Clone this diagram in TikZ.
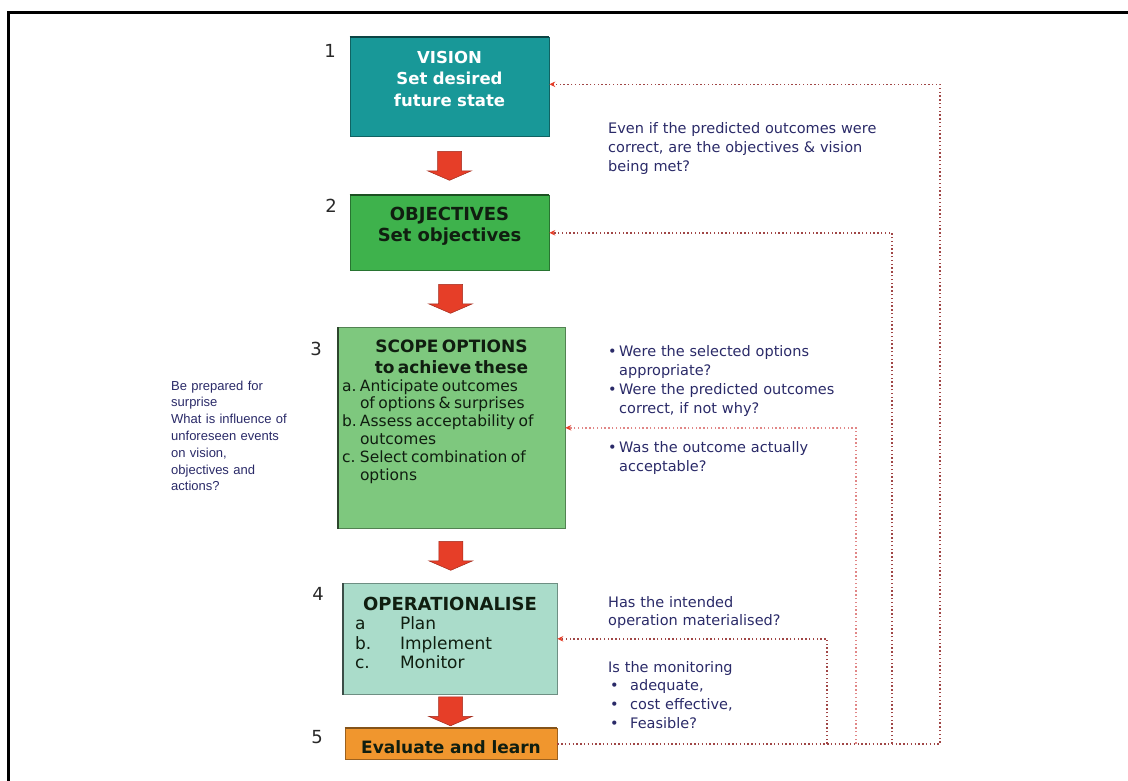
\documentclass[tikz,border=0pt]{standalone}
\usepackage{fontspec}
\setmainfont{DejaVu Sans}
\newfontfamily\notefont{Liberation Sans}
\usetikzlibrary{arrows.meta,calc}

\definecolor{visioncol}{RGB}{24,152,152}
\definecolor{objcol}{RGB}{62,178,76}
\definecolor{scopecol}{RGB}{126,200,126}
\definecolor{opcol}{RGB}{170,220,202}
\definecolor{evalcol}{RGB}{240,150,46}
\definecolor{arrowred}{RGB}{230,62,40}
\definecolor{navytext}{RGB}{42,42,104}
\definecolor{boxtext}{RGB}{16,30,16}
\definecolor{numcol}{RGB}{40,40,40}
\definecolor{fbcol}{RGB}{160,70,70}
\definecolor{fblight}{RGB}{225,135,135}

\tikzset{
  stagebox/.style={draw=#1!65!black, fill=#1, line width=0.6pt, anchor=north,
    inner xsep=4pt, inner ysep=0pt},
  stagenum/.style={anchor=base, inner sep=0pt, text=numcol,
    font={\fontsize{18pt}{20pt}\selectfont}},
  note/.style={anchor=base west, inner sep=0pt, align=left, text width=300pt,
    text=navytext, font={\fontsize{14.5pt}{19.2pt}\selectfont}},
  fbline/.style={draw=fbcol, line width=1.4pt, dash pattern=on 1.4pt off 2.4pt},
  fbfaint/.style={draw=fblight, line width=1.4pt, dash pattern=on 1.4pt off 2.4pt},
  fbtip/.style={-{Stealth[length=6pt,width=5.5pt,color=arrowred]}},
  edgeline/.style={line width=1.8pt},
  blockarrow/.pic={
    \filldraw[fill=arrowred, draw=arrowred!70!black, line width=0.5pt]
      (-12,-14.5) -- (12,-14.5) -- (12,5) -- (22,5) -- (0,14.5)
      -- (-22,5) -- (-12,5) -- cycle;
  }
}

\begin{document}
\begin{tikzpicture}[x=1pt,y=-1pt]
\useasboundingbox (0,0) rectangle (1128,780);

% outer frame
\draw[line width=3pt] (8,800) -- (8,12) -- (1140,12);

% stage boxes
\node[stagebox=visioncol, text width=191pt, align=center, text=white,
      text height=26pt, text depth=73pt,
      font={\fontsize{16.5pt}{21.5pt}\selectfont\bfseries}]
  (vis) at (449.5,37) {VISION\\Set desired\\future state};
\draw[edgeline, visioncol!45!black] (vis.north west) -- (vis.north east);

\node[stagebox=objcol, text width=191pt, align=center, text=boxtext,
      text height=25pt, text depth=50pt,
      font={\fontsize{18pt}{21pt}\selectfont\bfseries}]
  (obj) at (449.5,195) {OBJECTIVES\\Set objectives};
\draw[edgeline, objcol!45!black] (obj.north west) -- (obj.north east);

\node[stagebox=scopecol, text width=219pt, align=left, text=boxtext,
      text height=25pt, text depth=176pt]
  (scope) at (451.5,327) {%
  {\centering\fontsize{17pt}{21pt}\selectfont\bfseries SCOPE OPTIONS\\to achieve these\par}%
  {\fontsize{15.5pt}{17.8pt}\selectfont\raggedright
  \makebox[18pt][l]{a.}Anticipate outcomes\\
  \hspace*{18pt}of options \& surprises\\
  \makebox[18pt][l]{b.}Assess acceptability of\\
  \hspace*{18pt}outcomes\\
  \makebox[18pt][l]{c.}Select combination of\\
  \hspace*{18pt}options\par}};
\draw[edgeline, scopecol!35!black] (scope.north west) -- (scope.south west);

\node[stagebox=opcol, text width=206pt, align=left, text=boxtext,
      text height=27pt, text depth=84pt]
  (op) at (450,583) {%
  {\centering\fontsize{18pt}{22pt}\selectfont\bfseries OPERATIONALISE\par}%
  {\fontsize{17pt}{19.5pt}\selectfont\raggedright
  \hspace*{8pt}\makebox[45pt][l]{a}Plan\\
  \hspace*{8pt}\makebox[45pt][l]{b.}Implement\\
  \hspace*{8pt}\makebox[45pt][l]{c.}Monitor\par}};
\draw[edgeline, opcol!35!black] (op.north west) -- (op.south west);

\node[stagebox=evalcol, text width=204pt, align=center, text=boxtext,
      text height=25pt, text depth=6pt,
      font={\fontsize{17pt}{20pt}\selectfont\bfseries}]
  (eval) at (451,728) {Evaluate and learn};
\draw[edgeline, evalcol!55!black] (eval.north west) -- (eval.north east);

% stage numbers
\node[stagenum] (n1) at (330,57) {1};
\node[stagenum] (n2) at (331,212) {2};
\node[stagenum] (n3) at (316,355) {3};
\node[stagenum] (n4) at (318,600) {4};
\node[stagenum] (n5) at (317,743) {5};

% block arrows between stages
\pic at ($(vis.south)!0.5!(obj.north)$) {blockarrow};
\pic at ($(obj.south)!0.5!(scope.north)$) {blockarrow};
\pic at ($(scope.south)!0.5!(op.north)$) {blockarrow};
\pic at ($(op.south)!0.5!(eval.north)$) {blockarrow};

% feedback rails
\coordinate (railA) at (940,0);
\coordinate (railB) at (892,0);
\coordinate (railC) at (856,0);
\coordinate (railD) at (827,0);

\draw[fbline, fbtip] (eval.east) -- (eval.east -| railA)
  -- ([yshift=2.5pt]vis.east -| railA) -- ([yshift=2.5pt]vis.east);
\draw[fbline, fbtip] (eval.east -| railB) |- (obj.east);
\draw[fbfaint, fbtip] (eval.east -| railC) |- (scope.east);
\draw[fbline, fbtip] (eval.east -| railD) |- (op.east);

% questions and notes
\node[note] (qvis) at (608,133)
  {Even if the predicted outcomes were\\correct, are the objectives \& vision\\being met?};

\node[note] (qscope) at (608,356)
  {\makebox[11pt][l]{•}Were the selected options\\
   \hspace*{11pt}appropriate?\\
   \makebox[11pt][l]{•}Were the predicted outcomes\\
   \hspace*{11pt}correct, if not why?\\
   \mbox{}\\
   \makebox[11pt][l]{•}Was the outcome actually\\
   \hspace*{11pt}acceptable?};

\node[note, text width=120pt, font={\notefont\fontsize{13pt}{16.8pt}\selectfont}]
  (qsurprise) at (171,390)
  {Be prepared for\\surprise\\What is influence of\\unforeseen events\\on vision,\\objectives and\\actions?};

\node[note, font={\fontsize{14.5pt}{18pt}\selectfont}] (qop) at (608,607)
  {Has the intended\\operation materialised?};

\node[note, font={\fontsize{14.5pt}{18.7pt}\selectfont}] (qmon) at (608,672)
  {Is the monitoring\\
   \hspace*{2pt}\makebox[20pt][l]{•}adequate,\\
   \hspace*{2pt}\makebox[20pt][l]{•}cost effective,\\
   \hspace*{2pt}\makebox[20pt][l]{•}Feasible?};

\end{tikzpicture}
\end{document}
